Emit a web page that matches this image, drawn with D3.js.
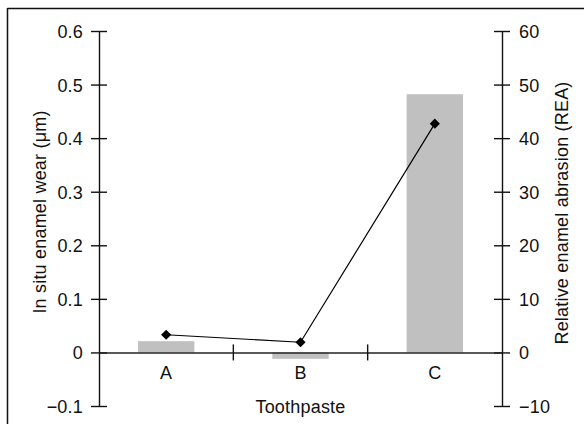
<!DOCTYPE html>
<html>
<head>
<meta charset="utf-8">
<script src="https://cdn.jsdelivr.net/npm/d3@7"></script>
<style>
  html, body { margin: 0; padding: 0; background: #fff; }
  svg { display: block; }
  text { font-family: "Liberation Sans", Arial, Helvetica, sans-serif; font-size: 18px; letter-spacing: 0.2px; fill: #111; }
</style>
</head>
<body>
<svg id="chart" width="584" height="424"></svg>
<script>
// Toothpaste groups
const categories = ["A", "B", "C"];
// In situ enamel wear (µm), drawn as bars on the left axis
const wearValues = [0.021, -0.012, 0.482];
// Relative enamel abrasion (REA), drawn as a line on the right axis
const reaValues = [3.3, 1.9, 42.7];
// Axis tick values
const leftTicks = [-0.1, 0, 0.1, 0.2, 0.3, 0.4, 0.5, 0.6];
const rightTicks = [-10, 0, 10, 20, 30, 40, 50, 60];

const svg = d3.select("#chart");
const plot = { left: 99, right: 502, top: 31, bottom: 406 };

const x = d3.scaleBand().domain(categories).range([plot.left, plot.right]).paddingInner(0).paddingOuter(0);
const yL = d3.scaleLinear().domain([-0.1, 0.6]).range([plot.bottom, plot.top]);
const yR = d3.scaleLinear().domain([-10, 60]).range([plot.bottom, plot.top]);
const fmt = d3.format("~g");

// Outer frame (top and left edges)
svg.append("line").attr("x1", 7.5).attr("x2", 584).attr("y1", 8.5).attr("y2", 8.5)
  .attr("stroke", "#111").attr("stroke-width", 1.5);
svg.append("line").attr("x1", 7.5).attr("x2", 7.5).attr("y1", 8).attr("y2", 424)
  .attr("stroke", "#111").attr("stroke-width", 1.5);

// Bars
const barW = x.bandwidth() * 0.42;
svg.append("g").selectAll("rect").data(categories).join("rect")
  .attr("x", (d) => x(d) + x.bandwidth() / 2 - barW / 2)
  .attr("width", barW)
  .attr("y", (d, i) => Math.min(yL(wearValues[i]), yL(0)))
  .attr("height", (d, i) => Math.abs(yL(wearValues[i]) - yL(0)))
  .attr("fill", "#c0c0c0");

// Left axis
const gL = svg.append("g").attr("transform", `translate(${plot.left},0)`)
  .call(d3.axisLeft(yL).tickValues(leftTicks).tickFormat(fmt).tickSizeInner(8).tickSizeOuter(0).tickPadding(8));
gL.selectAll(".tick line").attr("x1", 8).attr("x2", -8);

// Right axis
const gR = svg.append("g").attr("transform", `translate(${plot.right},0)`)
  .call(d3.axisRight(yR).tickValues(rightTicks).tickFormat(fmt).tickSizeInner(8).tickSizeOuter(0).tickPadding(9));
gR.selectAll(".tick line").attr("x1", -8).attr("x2", 8);

[gL, gR].forEach((g) => {
  g.attr("font-family", null).attr("font-size", null);
  g.select(".domain").attr("stroke", "#111").attr("stroke-width", 1.4);
  g.selectAll(".tick line").attr("stroke", "#111").attr("stroke-width", 1.4);
  g.selectAll(".tick text").attr("dy", "0.36em").attr("fill", "#111");
});

// Category axis along zero
const y0 = yL(0);
const gX = svg.append("g").attr("transform", `translate(0,${y0})`)
  .call(d3.axisBottom(x).tickSize(0).tickPadding(0));
gX.attr("font-family", null).attr("font-size", null);
gX.select(".domain").attr("stroke", "#222").attr("stroke-width", 1.6);
gX.selectAll(".tick text").attr("y", 27).attr("dy", 0).attr("fill", "#111");
// Boundary ticks between groups
gX.append("g").selectAll("line").data(categories.slice(1)).join("line")
  .attr("x1", (d) => x(d)).attr("x2", (d) => x(d))
  .attr("y1", -8).attr("y2", 8)
  .attr("stroke", "#111").attr("stroke-width", 1.4);

// REA line with diamond markers
const cx = (i) => x(categories[i]) + x.bandwidth() / 2;
svg.append("path")
  .datum(reaValues)
  .attr("fill", "none").attr("stroke", "#000").attr("stroke-width", 1.2)
  .attr("d", d3.line().x((d, i) => cx(i)).y((d) => yR(d)));
svg.append("g").selectAll("path").data(reaValues).join("path")
  .attr("d", d3.symbol(d3.symbolSquare, 52))
  .attr("transform", (d, i) => `translate(${cx(i)},${yR(d)}) rotate(45)`)
  .attr("fill", "#000");

// Axis titles
svg.append("text").attr("x", (plot.left + plot.right) / 2).attr("y", 413)
  .attr("text-anchor", "middle").text("Toothpaste");
svg.append("text").attr("transform", "translate(46,212) rotate(-90)")
  .attr("text-anchor", "middle").text("In situ enamel wear (\u03bcm)");
svg.append("text").attr("transform", "translate(568,213) rotate(-90)")
  .attr("text-anchor", "middle").text("Relative enamel abrasion (REA)");
</script>
</body>
</html>
